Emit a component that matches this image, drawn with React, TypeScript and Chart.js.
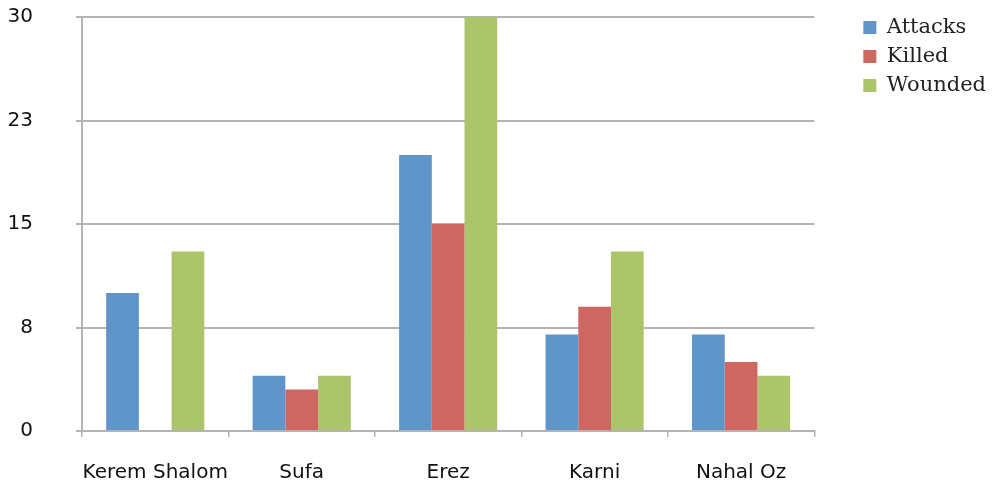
import React, { useEffect, useRef } from "react";
import { Chart, registerables } from "chart.js";

Chart.register(...registerables);

const categories = ["Kerem Shalom", "Sufa", "Erez", "Karni", "Nahal Oz"];
const attacks = [10, 4, 20, 7, 7];
const killed = [0, 3, 15, 9, 5];
const wounded = [13, 4, 30, 13, 4];
const yTicks = [0, 7.5, 15, 22.5, 30];

const GRID = "#b3b3b3";

export default function App() {
  const ref = useRef<HTMLCanvasElement | null>(null);
  useEffect(() => {
    if (!ref.current) return;
    const shiftLegend = {
      id: "shiftLegend",
      afterLayout(chart: any) {
        const l = chart.legend;
        if (l) {
          l.left += 41;
          l.right += 41;
          l.top -= 8;
          l.bottom -= 8;
        }
      },
    };
    const chart = new Chart(ref.current, {
      type: "bar",
      data: {
        labels: categories,
        datasets: [
          { label: "Attacks", data: attacks, backgroundColor: "#5f95c9" },
          { label: "Killed", data: killed, backgroundColor: "#ce6661" },
          { label: "Wounded", data: wounded, backgroundColor: "#acc56b" },
        ],
      },
      options: {
        animation: false,
        responsive: false,
        maintainAspectRatio: false,
        datasets: { bar: { categoryPercentage: 0.67, barPercentage: 1 } },
        layout: { padding: { top: 17, right: 38, bottom: 0, left: 0 } },
        plugins: {
          tooltip: { enabled: false },
          legend: {
            position: "right",
            align: "start",
            labels: {
              boxWidth: 13,
              boxHeight: 13,
              padding: 8,
              color: "#222",
              font: { family: "'DejaVu Serif', serif", size: 21 },
            },
          },
        },
        scales: {
          x: {
            afterFit(scale: any) {
              scale.height = 54;
            },
            grid: {
              display: true,
              drawOnChartArea: false,
              drawTicks: true,
              tickLength: 6,
              offset: true,
              color: GRID,
              lineWidth: 1.5,
            },
            border: { display: true, color: GRID, width: 2 },
            ticks: {
              padding: 24,
              maxRotation: 0,
              minRotation: 0,
              autoSkip: false,
              color: "#111",
              font: { family: "'DejaVu Sans', sans-serif", size: 20 },
            },
          },
          y: {
            min: 0,
            max: 30,
            afterBuildTicks(scale: any) {
              scale.ticks = yTicks.map((v) => ({ value: v }));
            },
            afterFit(scale: any) {
              scale.width = 82;
              scale.paddingTop = 0;
              scale.paddingBottom = 0;
            },
            grid: {
              color: GRID,
              lineWidth: 2,
              drawTicks: true,
              tickLength: 6,
            },
            border: { display: true, color: GRID, width: 2 },
            ticks: {
              padding: 43,
              color: "#111",
              font: { family: "'DejaVu Sans', sans-serif", size: 20 },
              callback: (v: any) => String(Math.round(Number(v))),
            },
          },
        },
      },
      plugins: [shiftLegend],
    });
    return () => chart.destroy();
  }, []);
  return (
    <div style={{ position: "fixed", left: 0, top: 0, width: 993, height: 485, background: "#fff" }}>
      <canvas ref={ref} width={993} height={485} style={{ width: 993, height: 485, display: "block" }} />
    </div>
  );
}
